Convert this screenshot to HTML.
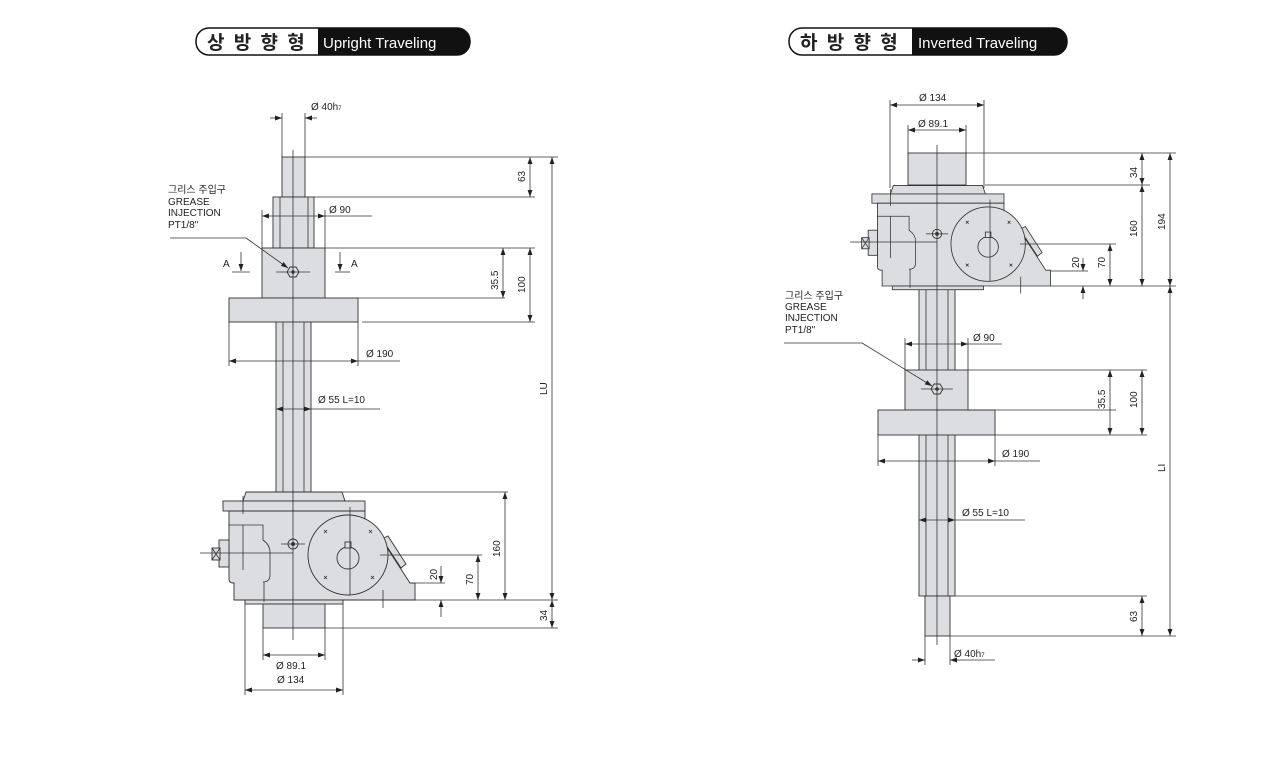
<!DOCTYPE html>
<html><head><meta charset="utf-8"><style>
body{margin:0;background:#fff;width:1277px;height:758px;overflow:hidden}
svg{display:block}
text{font-family:"Liberation Sans","Noto Sans CJK KR",sans-serif;fill:#222}
.f{fill:#dcdde0;stroke:#333;stroke-width:0.9}
.l{stroke:#333;stroke-width:0.8;fill:none}
.c{stroke:#333;stroke-width:0.9;fill:none}
.t{font-size:10px}
</style></head><body>
<svg width="1277" height="758" viewBox="0 0 1277 758">
<defs>
<marker id="a" viewBox="0 0 10 10" refX="10" refY="5" markerUnits="userSpaceOnUse" markerWidth="8" markerHeight="7" orient="auto-start-reverse"><path d="M0,1.5L10,5L0,8.5z" fill="#222"/></marker>
<g id="gb">
<polygon class="f" points="-47,-108 49,-108 52,-99 -50,-99"/>
<rect class="f" x="-70" y="-99" width="142" height="10"/>
<path class="f" d="M-64,-89 H72 V-70 L87,-63 L117,-17 H122 V0 H-59 V-17 H-60 Q-64,-17 -64,-21 Z"/>
<path class="l" d="M-64,-75 H-30 V-60 Q-23,-55 -23,-48 V-25 Q-23,-18 -30,-18"/>
<line class="l" x1="-50" y1="-75" x2="-50" y2="-30"/>
<polygon class="f" points="89,-61 95,-64 113,-36 108,-32"/>
<circle class="f" cx="55" cy="-45" r="40"/>
<circle class="f" cx="55" cy="-42" r="11"/>
<rect class="f" x="52" y="-58" width="6" height="6"/>
<g class="l"><path d="M31,-70l3,3m0,-3l-3,3M76,-70l3,3m0,-3l-3,3M31,-24l3,3m0,-3l-3,3M78,-24l3,3m0,-3l-3,3"/></g>
<rect class="f" x="-74" y="-60" width="10" height="27"/>
<rect class="f" x="-81" y="-52" width="8" height="12"/>
<path class="l" d="M-81,-52l8,12m0,-12l-8,12"/>
<rect class="f" x="-48" y="0" width="98" height="4"/>
<circle class="c" cx="0" cy="-56" r="5"/><circle cx="0" cy="-56" r="2" fill="#333"/>
<line class="l" x1="-12" y1="-56" x2="12" y2="-56"/>
<line class="l" x1="-50" y1="-104" x2="-50" y2="-86"/>
<line class="l" x1="57" y1="-93" x2="57" y2="-5"/>
<line class="l" x1="90" y1="-10" x2="90" y2="8"/>
<line class="l" x1="-29" y1="-18" x2="-29" y2="2"/>
</g>
</defs>

<!-- headers -->
<rect x="196" y="28" width="274" height="27" rx="13" fill="#fff" stroke="#111" stroke-width="1.5"/>
<path d="M318,28 H457 A13,13 0 0 1 457,55 H318 Z" fill="#111"/>
<text x="207" y="49" style="font-size:19px;font-weight:bold;letter-spacing:2px">상 방 향 형</text>
<text x="323" y="48" style="font-size:15px;fill:#fff">Upright Traveling</text>
<rect x="789" y="28" width="278" height="27" rx="13" fill="#fff" stroke="#111" stroke-width="1.5"/>
<path d="M912,28 H1054 A13,13 0 0 1 1054,55 H912 Z" fill="#111"/>
<text x="800" y="49" style="font-size:19px;font-weight:bold;letter-spacing:2px">하 방 향 형</text>
<text x="918" y="48" style="font-size:15px;fill:#fff">Inverted Traveling</text>

<!-- UPRIGHT -->
<rect class="f" x="276" y="320" width="35" height="172"/>
<line class="l" x1="283" y1="320" x2="283" y2="492"/><line class="l" x1="304" y1="320" x2="304" y2="492"/>
<rect class="f" x="282" y="157" width="23" height="40"/>
<rect class="f" x="273" y="197" width="41" height="51"/>
<line class="l" x1="280" y1="197" x2="280" y2="248"/><line class="l" x1="308" y1="197" x2="308" y2="248"/>
<rect class="f" x="262" y="248" width="63" height="50"/>
<rect class="f" x="229" y="298" width="129" height="24"/>
<use href="#gb" transform="translate(293,600)"/>
<rect class="f" x="263" y="604" width="62" height="24"/>
<line class="l" x1="293" y1="150" x2="293" y2="640"/>
<polygon class="c" points="287,272 290,267 296,267 299,272 296,277 290,277"/><circle cx="293" cy="272" r="1.8" fill="#333"/>
<line class="l" x1="276" y1="272" x2="310" y2="272"/>
<line class="l" x1="246" y1="238" x2="288" y2="268" marker-end="url(#a)"/>
<line class="l" x1="170" y1="238" x2="246" y2="238"/>
<text class="t" x="168" y="193">그리스 주입구</text>
<text class="t" x="168" y="205">GREASE</text>
<text class="t" x="168" y="216">INJECTION</text>
<text class="t" x="168" y="228">PT1/8"</text>
<text class="t" x="223" y="267">A</text><line class="l" x1="241" y1="252" x2="241" y2="271" marker-end="url(#a)"/><line class="l" x1="232" y1="272" x2="250" y2="272"/>
<text class="t" x="351" y="267">A</text><line class="l" x1="340" y1="252" x2="340" y2="271" marker-end="url(#a)"/><line class="l" x1="335" y1="272" x2="350" y2="272"/>
<g class="l">
<line x1="282" y1="113" x2="282" y2="157"/><line x1="305" y1="113" x2="305" y2="157"/>
<line x1="270" y1="118" x2="282" y2="118" marker-end="url(#a)"/><line x1="317" y1="118" x2="305" y2="118" marker-end="url(#a)"/>
<line x1="305" y1="157" x2="558" y2="157"/><line x1="314" y1="197" x2="535" y2="197"/>
<line x1="325" y1="248" x2="535" y2="248"/><line x1="358" y1="298" x2="505" y2="298"/><line x1="362" y1="322" x2="535" y2="322"/>
<line x1="342" y1="492" x2="508" y2="492"/><line x1="380" y1="555" x2="482" y2="555"/><line x1="415" y1="583" x2="445" y2="583"/>
<line x1="415" y1="600" x2="558" y2="600"/><line x1="325" y1="628" x2="558" y2="628"/>
<line x1="530" y1="157" x2="530" y2="197" marker-start="url(#a)" marker-end="url(#a)"/>
<line x1="503" y1="248" x2="503" y2="298" marker-start="url(#a)" marker-end="url(#a)"/>
<line x1="530" y1="248" x2="530" y2="322" marker-start="url(#a)" marker-end="url(#a)"/>
<line x1="552" y1="157" x2="552" y2="600" marker-start="url(#a)" marker-end="url(#a)"/>
<line x1="505" y1="492" x2="505" y2="600" marker-start="url(#a)" marker-end="url(#a)"/>
<line x1="478" y1="555" x2="478" y2="600" marker-start="url(#a)" marker-end="url(#a)"/>
<line x1="441" y1="566" x2="441" y2="583" marker-end="url(#a)"/><line x1="441" y1="617" x2="441" y2="600" marker-end="url(#a)"/>
<line x1="552" y1="600" x2="552" y2="628" marker-start="url(#a)" marker-end="url(#a)"/>
<line x1="262" y1="210" x2="262" y2="248"/><line x1="325" y1="210" x2="325" y2="248"/>
<line x1="262" y1="216" x2="325" y2="216" marker-start="url(#a)" marker-end="url(#a)"/><line x1="325" y1="216" x2="372" y2="216"/>
<line x1="229" y1="322" x2="229" y2="366"/><line x1="358" y1="322" x2="358" y2="366"/>
<line x1="229" y1="361" x2="358" y2="361" marker-start="url(#a)" marker-end="url(#a)"/><line x1="358" y1="361" x2="400" y2="361"/>
<line x1="276" y1="409" x2="311" y2="409" marker-start="url(#a)" marker-end="url(#a)"/><line x1="311" y1="409" x2="380" y2="409"/>
<line x1="263" y1="628" x2="263" y2="660"/><line x1="325" y1="628" x2="325" y2="660"/>
<line x1="263" y1="655" x2="325" y2="655" marker-start="url(#a)" marker-end="url(#a)"/>
<line x1="245" y1="604" x2="245" y2="695"/><line x1="343" y1="604" x2="343" y2="695"/>
<line x1="245" y1="690" x2="343" y2="690" marker-start="url(#a)" marker-end="url(#a)"/>
<line x1="200" y1="553" x2="293" y2="553"/>
</g>
<text class="t" x="311" y="110">Ø 40h<tspan style="font-size:6px">7</tspan></text>
<text class="t" x="329" y="213">Ø 90</text>
<text class="t" x="366" y="357">Ø 190</text>
<text class="t" x="318" y="403">Ø 55  L=10</text>
<text class="t" x="276" y="669">Ø 89.1</text>
<text class="t" x="277" y="683">Ø 134</text>
<g class="t">
<text transform="translate(525,182) rotate(-90)">63</text>
<text transform="translate(498,290) rotate(-90)">35.5</text>
<text transform="translate(525,293) rotate(-90)">100</text>
<text transform="translate(547,395) rotate(-90)">LU</text>
<text transform="translate(500,557) rotate(-90)">160</text>
<text transform="translate(473,585) rotate(-90)">70</text>
<text transform="translate(437,580) rotate(-90)">20</text>
<text transform="translate(547,621) rotate(-90)">34</text>
</g>

<!-- INVERTED -->
<rect class="f" x="919" y="286" width="36" height="310"/>
<line class="l" x1="926" y1="286" x2="926" y2="596"/><line class="l" x1="948" y1="286" x2="948" y2="596"/>
<rect class="f" x="908" y="153" width="58" height="32"/>
<use href="#gb" transform="translate(937,286) scale(0.93)"/>
<rect class="f" x="905" y="370" width="63" height="40"/>
<rect class="f" x="878" y="410" width="117" height="25"/>
<rect class="f" x="925" y="596" width="25" height="40"/>
<line class="l" x1="937" y1="145" x2="937" y2="645"/>
<polygon class="c" points="931,389 934,384 940,384 943,389 940,394 934,394"/><circle cx="937" cy="389" r="1.8" fill="#333"/>
<line class="l" x1="921" y1="389" x2="953" y2="389"/>
<line class="l" x1="862" y1="343" x2="932" y2="386" marker-end="url(#a)"/>
<line class="l" x1="784" y1="343" x2="862" y2="343"/>
<text class="t" x="785" y="299">그리스 주입구</text>
<text class="t" x="785" y="310">GREASE</text>
<text class="t" x="785" y="321">INJECTION</text>
<text class="t" x="785" y="333">PT1/8"</text>
<g class="l">
<line x1="890" y1="100" x2="890" y2="188"/><line x1="984" y1="100" x2="984" y2="188"/>
<line x1="890" y1="105" x2="984" y2="105" marker-start="url(#a)" marker-end="url(#a)"/>
<line x1="908" y1="125" x2="908" y2="153"/><line x1="966" y1="125" x2="966" y2="153"/>
<line x1="908" y1="130" x2="966" y2="130" marker-start="url(#a)" marker-end="url(#a)"/>
<line x1="966" y1="153" x2="1176" y2="153"/><line x1="985" y1="185" x2="1150" y2="185"/>
<line x1="1020" y1="244" x2="1116" y2="244"/><line x1="1050" y1="271" x2="1088" y2="271"/>
<line x1="1050" y1="286" x2="1176" y2="286"/>
<line x1="968" y1="370" x2="1147" y2="370"/><line x1="968" y1="410" x2="1116" y2="410"/><line x1="995" y1="435" x2="1147" y2="435"/>
<line x1="950" y1="596" x2="1147" y2="596"/><line x1="950" y1="636" x2="1176" y2="636"/>
<line x1="1142" y1="153" x2="1142" y2="185" marker-start="url(#a)" marker-end="url(#a)"/>
<line x1="1142" y1="185" x2="1142" y2="286" marker-start="url(#a)" marker-end="url(#a)"/>
<line x1="1170" y1="153" x2="1170" y2="286" marker-start="url(#a)" marker-end="url(#a)"/>
<line x1="1110" y1="244" x2="1110" y2="286" marker-start="url(#a)" marker-end="url(#a)"/>
<line x1="1083" y1="258" x2="1083" y2="271" marker-end="url(#a)"/><line x1="1083" y1="299" x2="1083" y2="286" marker-end="url(#a)"/>
<line x1="1170" y1="286" x2="1170" y2="636" marker-start="url(#a)" marker-end="url(#a)"/>
<line x1="1110" y1="370" x2="1110" y2="435" marker-start="url(#a)" marker-end="url(#a)"/>
<line x1="1142" y1="370" x2="1142" y2="435" marker-start="url(#a)" marker-end="url(#a)"/>
<line x1="1142" y1="596" x2="1142" y2="636" marker-start="url(#a)" marker-end="url(#a)"/>
<line x1="905" y1="338" x2="905" y2="370"/><line x1="968" y1="338" x2="968" y2="370"/>
<line x1="905" y1="344" x2="968" y2="344" marker-start="url(#a)" marker-end="url(#a)"/><line x1="968" y1="344" x2="1002" y2="344"/>
<line x1="878" y1="435" x2="878" y2="466"/><line x1="995" y1="435" x2="995" y2="466"/>
<line x1="878" y1="461" x2="995" y2="461" marker-start="url(#a)" marker-end="url(#a)"/><line x1="995" y1="461" x2="1040" y2="461"/>
<line x1="919" y1="520" x2="955" y2="520" marker-start="url(#a)" marker-end="url(#a)"/><line x1="955" y1="520" x2="1025" y2="520"/>
<line x1="925" y1="636" x2="925" y2="665"/><line x1="950" y1="636" x2="950" y2="665"/>
<line x1="912" y1="660" x2="925" y2="660" marker-end="url(#a)"/><line x1="963" y1="660" x2="950" y2="660" marker-end="url(#a)"/><line x1="963" y1="660" x2="995" y2="660"/>
<line x1="850" y1="242" x2="937" y2="242"/>
</g>
<text class="t" x="919" y="101">Ø 134</text>
<text class="t" x="918" y="127">Ø 89.1</text>
<text class="t" x="973" y="341">Ø 90</text>
<text class="t" x="1002" y="457">Ø 190</text>
<text class="t" x="962" y="516">Ø 55  L=10</text>
<text class="t" x="954" y="657">Ø 40h<tspan style="font-size:6px">7</tspan></text>
<g class="t">
<text transform="translate(1137,178) rotate(-90)">34</text>
<text transform="translate(1137,237) rotate(-90)">160</text>
<text transform="translate(1165,230) rotate(-90)">194</text>
<text transform="translate(1105,268) rotate(-90)">70</text>
<text transform="translate(1079,268) rotate(-90)">20</text>
<text transform="translate(1165,472) rotate(-90)">LI</text>
<text transform="translate(1105,409) rotate(-90)">35.5</text>
<text transform="translate(1137,408) rotate(-90)">100</text>
<text transform="translate(1137,622) rotate(-90)">63</text>
</g>
</svg>
</body></html>
